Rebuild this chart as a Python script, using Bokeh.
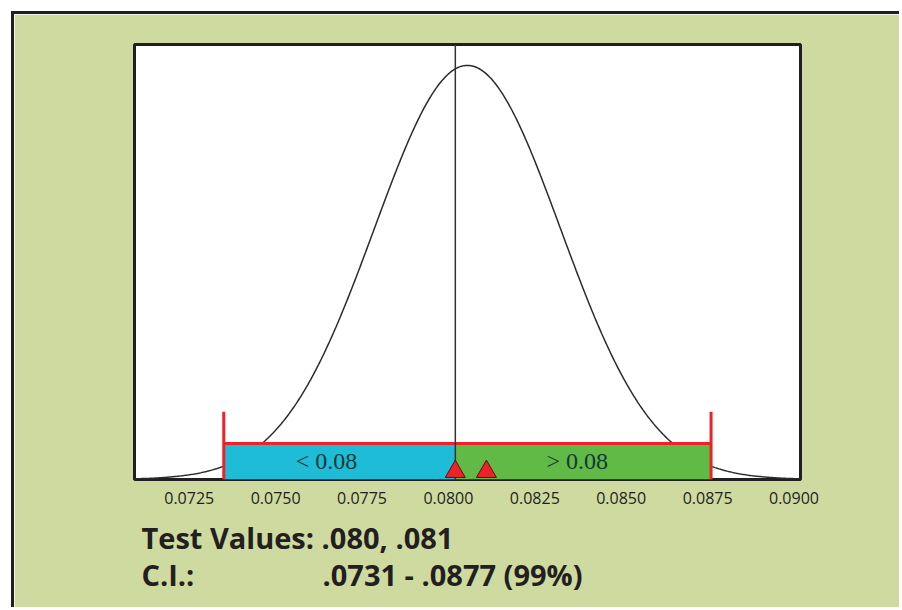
import numpy as np
from bokeh.plotting import figure
from bokeh.models import Range1d, FixedTicker, Title
from bokeh.embed import file_html
from bokeh.resources import INLINE
from bokeh.core.properties import value

# ---- data ----
tick_values = [0.0725, 0.0750, 0.0775, 0.0800, 0.0825, 0.0850, 0.0875, 0.0900]
tick_labels = ["0.0725", "0.0750", "0.0775", "0.0800", "0.0825", "0.0850", "0.0875", "0.0900"]
curve_mean = 0.08055
curve_sd = 0.00269
curve_peak = 0.952
ci_bounds = [0.0735, 0.0876]
test_values = [0.0802, 0.0811]
bar_labels = ["< 0.08", "> 0.08"]
bar_colors = ["#1EBCD6", "#62BA46"]
bar_height = 0.083
ci_marker_height = 0.156
summary_keys = ["Test Values:", "C.I.:"]
summary_vals = [".080, .081", ".0731 - .0877 (99%)"]
summary_gaps = [1, 17]  # non-breaking spaces between key and value columns

INK = "#231F20"
RED = "#EE2128"
BG = "#CFDAA0"

x_lo, x_hi = 0.070917, 0.090188

p = figure(width=888, height=596, output_backend="svg", toolbar_location=None,
           x_range=Range1d(x_lo, x_hi), y_range=Range1d(0, 1),
           y_axis_location=None, min_border_left=120, min_border_right=102,
           min_border_top=30, min_border_bottom=131,
           margin=(11, 0, 0, 11),
           styles={"border-left": f"3px solid {INK}", "border-top": f"3px solid {INK}"})
p.border_fill_color = BG
p.background_fill_color = "white"
p.outline_line_color = INK
p.outline_line_width = 3
p.xgrid.visible = False
p.ygrid.visible = False

ax = p.xaxis[0]
ax.ticker = FixedTicker(ticks=tick_values)
ax.major_label_overrides = {v: s for v, s in zip(tick_values, tick_labels)}
ax.axis_line_color = None
ax.major_tick_line_color = None
ax.minor_tick_line_color = None
ax.major_tick_out = 0
ax.major_tick_in = 0
ax.major_label_standoff = 12
ax.major_label_text_font = "Open Sans"
ax.major_label_text_font_size = "16px"
ax.major_label_text_color = INK

# normal curve
xs = np.linspace(x_lo, x_hi, 500)
ys = curve_peak * np.exp(-0.5 * ((xs - curve_mean) / curve_sd) ** 2)
p.line(xs, ys, line_color="#2b2b2b", line_width=1.5)

# bars
lefts = [ci_bounds[0], test_values[0]]
rights = [test_values[0], ci_bounds[1]]
p.quad(left=lefts, right=rights, bottom=0, top=bar_height, fill_color=bar_colors, line_color=None)

# CI red lines
p.segment(x0=[ci_bounds[0]], y0=[bar_height], x1=[ci_bounds[1]], y1=[bar_height],
          line_color=RED, line_width=3)
p.segment(x0=ci_bounds, y0=[0, 0], x1=ci_bounds, y1=[ci_marker_height] * 2,
          line_color=RED, line_width=3)

# vertical line at first test value
p.segment(x0=[test_values[0]], y0=[0], x1=[test_values[0]], y1=[1],
          line_color="#333333", line_width=1.5)

# bar labels
centers = [(a + b) / 2 for a, b in zip(lefts, rights)]
p.text(x=centers, y=[bar_height / 2] * 2, text=bar_labels, x_offset=[-13, -6],
       text_align="center", text_baseline="middle", text_font=value("Liberation Serif"),
       text_font_size="24px", text_color="#143838")

# test value triangles
p.scatter(x=test_values, y=[0.018] * 2, marker="triangle", size=20,
          fill_color=RED, line_color="#5a1010", line_width=1)

# summary lines below the axis
for k, v, g, so in zip(summary_keys, summary_vals, summary_gaps, [19, -28]):
    p.add_layout(Title(text=k + "\u00a0" * g + v, align="left", offset=7, standoff=so,
                       text_font="Open Sans", text_font_style="bold", text_font_size="29px",
                       text_color=INK), "below")

open("out.html", "w").write(file_html(p, INLINE))
